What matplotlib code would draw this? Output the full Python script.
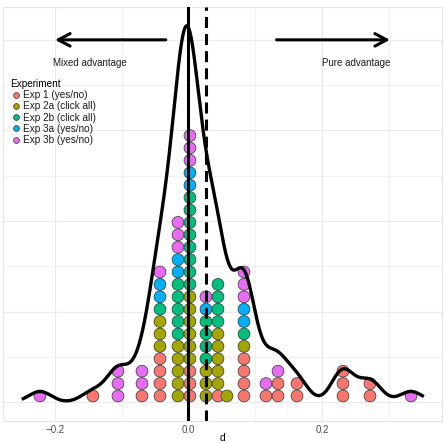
import numpy as np;
import matplotlib;
matplotlib.use("Agg");
import matplotlib.pyplot as plt;
from matplotlib.lines import Line2D;

# bin centres of the dot stacks (d) and number of dots per experiment in each bin
bin_d = [-0.2226, -0.1432, -0.1057, -0.0697, -0.0427, -0.0157, 0.0022, 0.0262, 0.0442,
         0.0577, 0.0832, 0.1162, 0.1342, 0.1627, 0.2316, 0.2721, 0.3336];
exp1  = [0, 1, 0, 1, 4, 0, 3, 0, 1, 0, 4, 1, 2, 2, 3, 2, 0];
exp2a = [0, 0, 0, 0, 3, 5, 6, 3, 5, 1, 1, 0, 0, 0, 0, 0, 0];
exp2b = [0, 0, 0, 0, 1, 5, 8, 4, 4, 0, 1, 0, 0, 0, 0, 0, 0];
exp3a = [0, 0, 0, 0, 2, 2, 2, 1, 0, 0, 2, 0, 0, 0, 0, 0, 0];
exp3b = [1, 0, 3, 2, 1, 3, 3, 1, 0, 0, 3, 1, 1, 0, 0, 0, 1];

exp_names = ["Exp 1 (yes/no)", "Exp 2a (click all)", "Exp 2b (click all)", "Exp 3a (yes/no)", "Exp 3b (yes/no)"];
exp_counts = [exp1, exp2a, exp2b, exp3a, exp3b];
exp_colors = ["#F8766D", "#A3A500", "#00BF7D", "#00B0F6", "#E76BF3"];

plt.rcParams['font.family'] = ['Liberation Sans', 'DejaVu Sans'];

# all observations
d_all = np.repeat(np.array(bin_d), np.sum(np.array(exp_counts), axis=0));
n = len(d_all);

# gaussian kde, bandwidth like R's bw.nrd0
q75, q25 = np.percentile(d_all, [75, 25]);
bw = 0.9 * min(np.std(d_all, ddof=1), (q75 - q25) / 1.34) * n ** -0.2;
grid = np.linspace(d_all.min() - 0.025, d_all.max() + 0.017, 600);
dens = np.exp(-0.5 * ((grid[:, None] - d_all[None, :]) / bw) ** 2).sum(axis=1) / (n * bw * np.sqrt(2 * np.pi));
peak = dens.max();

W, H = 444, 443;
fig = plt.figure(figsize=(W / 100, H / 100), dpi=100);
ax = fig.add_axes([3 / W, 22 / H, 439 / W, 414 / H]);
ax.set_xlim(-0.278, 0.380);
ax.set_ylim(-0.05 * peak, 1.05 * peak);

# grid
for gx in [-0.2, 0.0, 0.2]:
    ax.axvline(gx, color="#EBEBEB", lw=0.8, zorder=0);
for gx in [-0.1, 0.1, 0.3]:
    ax.axvline(gx, color="#EBEBEB", lw=0.5, zorder=0);
for gy in range(0, int(peak) + 1):
    ax.axhline(gy, color="#EBEBEB", lw=0.8 if gy % 2 == 0 else 0.5, zorder=0);

# dot stacks
dot_px = 12.4;
step = dot_px * (ax.get_ylim()[1] - ax.get_ylim()[0]) / 414;
xs, ys, cs = [], [], [];
for i, x in enumerate(bin_d):
    k = 0;
    for counts, col in zip(exp_counts, exp_colors):
        for _ in range(counts[i]):
            xs.append(x); ys.append((k + 0.5) * step); cs.append(col);
            k += 1;
ax.scatter(xs, ys, s=(dot_px * 0.72 - 0.4) ** 2, c=cs, edgecolors="#333333", linewidths=0.5, zorder=2);

# density, reference lines
ax.plot(grid, dens, color="black", lw=2.4, zorder=3);
ax.axvline(0, color="black", lw=2.2, zorder=4);
ax.axvline(d_all.mean(), color="black", lw=2.2, dashes=(3.6, 2.0), zorder=4);

# arrows + labels
arrow = dict(arrowstyle="->,head_length=0.85,head_width=0.45", lw=2.2, color="black", shrinkA=0, shrinkB=0);
ax.annotate("", xy=(-0.2, 8), xytext=(-0.034, 8), arrowprops=arrow);
ax.annotate("", xy=(0.302, 8), xytext=(0.132, 8), arrowprops=arrow);
ax.text(-0.148, 7.49, "Mixed advantage", ha="center", va="center", fontsize=7, color="#1A1A1A");
ax.text(0.251, 7.49, "Pure advantage", ha="center", va="center", fontsize=7, color="#1A1A1A");

# legend
handles = [Line2D([], [], marker="o", ls="", markersize=4.2, markerfacecolor=c, markeredgecolor="#333333",
                  markeredgewidth=0.5) for c in exp_colors];
leg = ax.legend(handles, exp_names, title="Experiment", loc="upper left", bbox_to_anchor=(10.5 / W, 1 - 79 / H),
                bbox_transform=fig.transFigure, frameon=False, fontsize=7.2, title_fontsize=7.2,
                handlelength=1.1, handletextpad=0.15, labelspacing=0.12, borderpad=0, borderaxespad=0);
leg._legend_box.align = "left";
for t in leg.get_texts():
    t.set_color("#1A1A1A");

ax.set_xticks([-0.2, 0.0, 0.2]);
ax.set_xticklabels(["\u22120.2", "0.0", "0.2"]);
ax.set_yticks([]);
ax.tick_params(axis="x", length=0, pad=3, labelsize=7, labelcolor="#4D4D4D");
ax.set_xlabel("d", fontsize=7.5, labelpad=-1.5);
for s in ax.spines.values():
    s.set_color("#E5E5E5");
    s.set_linewidth(0.8);

fig.savefig("out.png", dpi=100);
